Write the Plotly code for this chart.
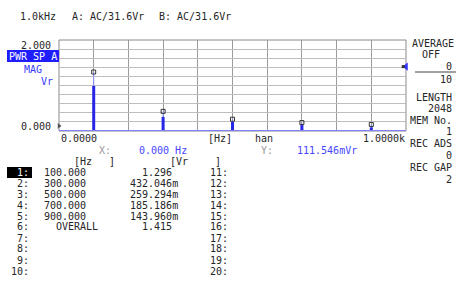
import plotly.graph_objects as go

# ---- data ----
freqs_hz = [100, 300, 500, 700, 900]
peak_vr = [1.296, 0.432046, 0.259294, 0.185186, 0.143960]
bar_vr = [0.99, 0.31, 0.20, 0.13, 0.08]
overall_vr = 1.415
cursor_x_hz = 0.0
cursor_y_vr = 0.111546

row_nums_left = ["1:", "2:", "3:", "4:", "5:", "6:", "7:", "8:", "9:", "10:"]
row_nums_right = ["11:", "12:", "13:", "14:", "15:", "16:", "17:", "18:", "19:", "20:"]
hz_col = ["100.000", "300.000", "500.000", "700.000", "900.000"]
vr_col = ["1.296", "432.046m", "259.294m", "185.186m", "143.960m"]

W, H = 464, 295
L, R, T, B = 59, 406, 40, 131
FONT = "DejaVu Sans Mono"
DARK = "#262626"
BLUE_TXT = "#4646ff"


def px(x):
    return (x - L) / (R - L)


def py(y):
    return (B - y) / (B - T)


fig = go.Figure()

# thin light stems up to peak
sx, sy = [], []
for f, p in zip(freqs_hz, peak_vr):
    sx += [f, f, None]
    sy += [0, p, None]
fig.add_trace(go.Scatter(x=sx, y=sy, mode="lines",
                         line=dict(color="#8c8cff", width=1), hoverinfo="skip"))
# thick bars
bx, by = [], []
for f, b in zip(freqs_hz, bar_vr):
    bx += [f, f, None]
    by += [0, b, None]
fig.add_trace(go.Scatter(x=bx, y=by, mode="lines",
                         line=dict(color="#2626e6", width=3), hoverinfo="skip"))
# peak markers
fig.add_trace(go.Scatter(x=freqs_hz, y=peak_vr, mode="markers",
                         marker=dict(symbol="square-open", size=4,
                                     color="#333333", line=dict(width=1)),
                         hoverinfo="skip", cliponaxis=False))
# cursor marker
fig.add_trace(go.Scatter(x=[cursor_x_hz], y=[cursor_y_vr], mode="markers",
                         marker=dict(symbol="triangle-right", size=5, color="#555555"),
                         hoverinfo="skip", cliponaxis=False))
# overall level marker at right edge
fig.add_trace(go.Scatter(x=[1000], y=[overall_vr], mode="markers",
                         marker=dict(symbol="triangle-left", size=7, color="#3333ff"),
                         hoverinfo="skip", cliponaxis=False))
fig.add_trace(go.Scatter(x=[992], y=[overall_vr], mode="markers",
                         marker=dict(symbol="square", size=3, color="#333333"),
                         hoverinfo="skip", cliponaxis=False))

shapes = [
    dict(type="rect", xref="paper", yref="paper", x0=0, x1=1, y0=0, y1=1,
         line=dict(color="#8a8a8a", width=1), layer="below"),
    dict(type="line", xref="x", yref="y", x0=0, x1=1000, y0=0, y1=0,
         line=dict(color="#8080ff", width=2), layer="above"),
    # PWR SP A box
    dict(type="rect", xref="paper", yref="paper", x0=px(7), x1=px(59),
         y0=py(62), y1=py(50), fillcolor="#1e1eff", line=dict(width=0)),
    # highlight of row 1
    dict(type="rect", xref="paper", yref="paper", x0=px(7), x1=px(32),
         y0=py(178), y1=py(167), fillcolor="#000000", line=dict(width=0)),
    # fraction line right panel
    dict(type="line", xref="paper", yref="paper", x0=px(415), x1=px(456),
         y0=py(72), y1=py(72), line=dict(color="#444444", width=1)),
]

ann = []


def t(text, x, y, anchor="left", color=DARK, size=10):
    ann.append(dict(text=text, x=px(x), y=py(y), xref="paper", yref="paper",
                    xanchor=anchor, yanchor="middle", showarrow=False,
                    font=dict(family=FONT, size=size, color=color)))


# header
t("1.0kHz", 18, 16)
t("A: AC/31.6Vr", 70, 16)
t("B: AC/31.6Vr", 157, 16)

# left of plot
t("2.000", 53, 45, "right")
t("PWR SP A", 33, 56, "center", "#ffffff")
t("MAG", 33, 69, "center", "#3a3aff")
t("Vr", 47, 81, "center", "#3a3aff")
t("0.000", 53, 126, "right")

# right panel
t("AVERAGE", 433, 43, "center")
t("OFF", 431, 54, "center")
t("0", 454, 66, "right")
t("10", 454, 79, "right")
t("LENGTH", 454, 97, "right")
t("2048", 454, 108, "right")
t("MEM No.", 454, 120, "right")
t("1", 454, 131, "right")
t("REC ADS", 454, 143, "right")
t("0", 454, 155, "right")
t("REC GAP", 454, 167, "right")
t("2", 454, 179, "right")

# under plot
t("0.0000", 59, 138)
t("[Hz]", 220, 138, "center")
t("han", 264, 138, "center")
t("1.0000k", 407, 138, "right")
t("X:", 97, 150, "left", "#999999")
t("0.000 Hz", 137, 150, "left", BLUE_TXT)
t("Y:", 259, 150, "left", "#999999")
t("111.546mVr", 295, 150, "left", BLUE_TXT)

# table
t("[Hz", 72, 161)
t("]", 107, 161)
t("[Vr", 168, 161)
t("]", 213, 161)
for i, lab in enumerate(row_nums_left):
    yy = 172 + 11 * i
    t(lab, 31, yy, "right", "#ffffff" if i == 0 else DARK)
    t(row_nums_right[i], 230, yy, "right")
for i, (hz, vr) in enumerate(zip(hz_col, vr_col)):
    yy = 172 + 11 * i
    t(hz, 42, yy)
    t(vr, 180 if vr.endswith("m") else 174, yy, "right")
t("OVERALL", 77, 172 + 11 * 5, "center")
t(f"{overall_vr:.3f}", 174, 172 + 11 * 5, "right")

fig.update_layout(
    width=W, height=H,
    margin=dict(l=L, r=W - R, t=T, b=H - B),
    paper_bgcolor="#ffffff", plot_bgcolor="#ffffff",
    showlegend=False,
    shapes=shapes, annotations=ann,
    xaxis=dict(range=[0, 1000], tick0=0, dtick=100, showgrid=True,
               gridcolor="#9a9a9a", gridwidth=1, showticklabels=False,
               zeroline=False, showline=False, ticks=""),
    yaxis=dict(range=[0, 2], tick0=0, dtick=0.2, showgrid=True,
               gridcolor="#bdbdbd", gridwidth=1, showticklabels=False,
               zeroline=False, showline=False, ticks=""),
)

fig.write_html("out.html")
